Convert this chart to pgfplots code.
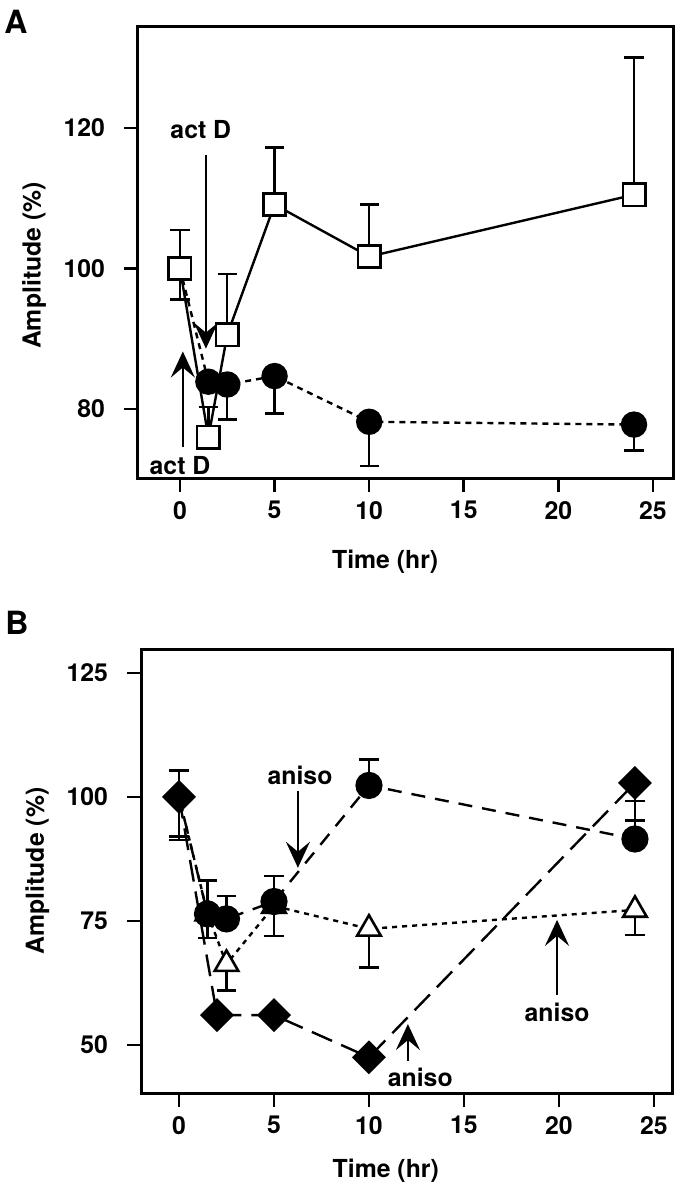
\documentclass[border=0pt]{standalone}
\usepackage{fontspec}
\setmainfont{TeX Gyre Heros}
\usepackage{pgfplots}
\usepackage{pgfplotstable}
\pgfplotsset{compat=1.18}
\usetikzlibrary{arrows.meta}

\pgfplotstableread{
x y ep
0 100 5.5
1.5 76.0 4.3
2.5 90.6 8.6
5 109.1 8.1
10 101.7 7.4
24 110.5 19.5
}\Asq
\pgfplotstableread{
x y em
0 100 4.4
1.5 83.9 0
2.5 83.5 5.0
5 84.7 5.3
10 78.2 6.3
24 77.8 3.7
}\Acirc
\pgfplotstableread{
x y ep
0 100 5.3
1.5 76.4 6.7
2.5 75.4 4.6
5 78.9 5.2
10 102.3 5.2
24 91.5 7.7
}\Bcirc
\pgfplotstableread{
x y em
0 100 8.0
1.5 76.5 4.9
2.5 66.3 5.3
5 78.0 6.0
10 73.4 7.8
24 77.2 5.0
}\Btri
\pgfplotstableread{
x y em
0 100 8.7
2 56.0 0
5 56.0 0
10 47.5 0
24 102.8 7.6
}\Bdia

\tikzset{
  arr/.style={line width=1.2pt, -{Stealth[length=13pt,width=12pt,inset=5pt]}},
  lab/.style={font=\fontsize{12.4pt}{14pt}\selectfont\bfseries},
}
\pgfplotsset{
  myax/.style={
    scale only axis, clip=false,
    axis line style={line width=1.5pt},
    tick style={line width=1.3pt, black},
    major tick length=7pt, tick align=outside, tick pos=left,
    xtick={0,5,10,15,20,25},
    /pgf/number format/assume math mode=true,
    ticklabel style={font=\fontsize{12.4pt}{14pt}\selectfont\bfseries},
    yticklabel style={xshift=-6pt},
    xticklabel style={yshift=-1pt},
    label style={font=\fontsize{12.4pt}{14pt}\selectfont\bfseries},
    xlabel={Time (hr)},
    ylabel={Amplitude (\%)},
    error bars/error bar style={line width=1.2pt, solid},
    error bars/error mark options={rotate=90, mark size=4.8pt, line width=1.2pt, solid},
  },
}

\begin{document}
\begin{tikzpicture}
\path[use as bounding box] (0,0) rectangle (343.5pt,-599.5pt);
\node[font=\fontsize{16pt}{18pt}\selectfont\bfseries] at (8pt,-11pt) {A};
\node[font=\fontsize{16pt}{18pt}\selectfont\bfseries] at (8.5pt,-311.5pt) {B};

% Panel A
\begin{axis}[myax,
  at={(69pt,-239pt)}, anchor=south west,
  width=267.5pt, height=226pt,
  xmin=-2.22, xmax=26.06, ymin=70.2, ymax=134.5,
  ytick={80,100,120},
  xlabel style={at={(axis description cs:0.462,-0.186)}, anchor=center},
  ylabel style={at={(axis description cs:-0.194,0.47)}, anchor=center},
]
\addplot[black, line width=1.2pt, mark=square*, mark size=5.6pt,
  mark options={fill=white, line width=1.3pt, solid},
  error bars/.cd, y dir=plus, y explicit]
  table[x=x, y=y, y error plus=ep] {\Asq};
\addplot[black, line width=1.2pt, dash pattern=on 3pt off 2.5pt, mark=*, mark size=6pt,
  mark indices={2,3,4,5,6}, mark options={solid},
  error bars/.cd, y dir=minus, y explicit]
  table[x=x, y=y, y error minus=em] {\Acirc};
\addplot[only marks, black, mark=*, mark size=6pt, mark indices={2,3,4,5,6}]
  table[x=x, y=y] {\Acirc};
\draw[arr] (axis cs:1.37,116.2) -- (axis cs:1.37,88.6);
\node[lab] at (axis cs:1.1,119.7) {act D};
\draw[arr] (axis cs:0.15,74.6) -- (axis cs:0.15,88.2);
\node[lab] at (axis cs:0,72.0) {act D};
\end{axis}

% Panel B
\begin{axis}[myax,
  at={(70.5pt,-546.5pt)}, anchor=south west,
  width=265.5pt, height=222pt,
  xmin=-2.0, xmax=25.95, ymin=40.3, ymax=129.8,
  ytick={50,75,100,125},
  xlabel style={at={(axis description cs:0.461,-0.175)}, anchor=center},
  ylabel style={at={(axis description cs:-0.195,0.5)}, anchor=center},
]
\addplot[black, line width=1.2pt, dash pattern=on 2.5pt off 2.5pt, mark=triangle*, mark size=6.8pt,
  mark indices={2,3,4,5,6},
  mark options={fill=white, line width=1.3pt, solid},
  error bars/.cd, y dir=minus, y explicit]
  table[x=x, y=y, y error minus=em] {\Btri};
\addplot[black, line width=1.2pt, dash pattern=on 7pt off 5pt, mark=*, mark size=6.2pt,
  mark indices={2,3,4,5,6},
  mark options={solid},
  error bars/.cd, y dir=plus, y explicit]
  table[x=x, y=y, y error plus=ep] {\Bcirc};
\addplot[black, line width=1.2pt, dash pattern=on 11pt off 5pt, mark=square*, mark size=5.4pt,
  mark options={solid, rotate=45},
  error bars/.cd, y dir=minus, y explicit]
  table[x=x, y=y, y error minus=em] {\Bdia};
\draw[arr] (axis cs:6.26,101.2) -- (axis cs:6.26,85.7);
\node[lab] at (axis cs:6.37,104.4) {aniso};
\draw[arr] (axis cs:12.05,46.8) -- (axis cs:12.05,54.2);
\node[lab] at (axis cs:12.7,43.5) {aniso};
\draw[arr] (axis cs:19.9,60.1) -- (axis cs:19.9,75.2);
\node[lab] at (axis cs:19.9,56.6) {aniso};
\end{axis}
\end{tikzpicture}
\end{document}
